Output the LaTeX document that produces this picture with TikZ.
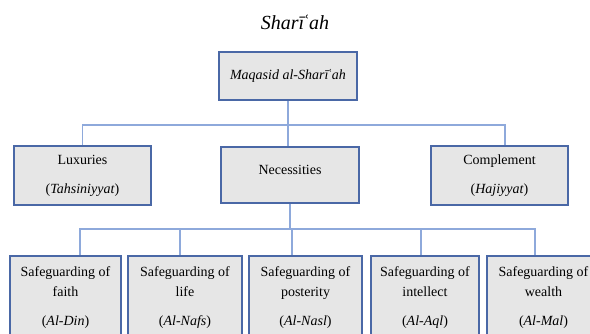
\documentclass[tikz,border=0pt]{standalone}
\usepackage{fontspec}
\setmainfont{Liberation Serif}
\definecolor{boxblue}{HTML}{4A68A6}
\definecolor{linkblue}{HTML}{8EA9DB}
\definecolor{boxgrey}{HTML}{E6E6E6}
\def\u{0.75pt}
\begin{document}
\begin{tikzpicture}[x=0.75pt,y=-0.75pt,
	every node/.style={font=\fontsize{10.5}{12.6}\selectfont},
	box/.style={rectangle,draw=boxblue,line width=1.3pt,fill=boxgrey,align=center,inner sep=0pt},
	link/.style={draw=linkblue,line width=0.8pt}]
\useasboundingbox (0,0) rectangle (590,334);
\clip (0,0) rectangle (590,334);
\node[font=\fontsize{15}{18}\selectfont\itshape] (title) at (295,22) {Sharī\kern-1.2ptʿah};
\node[box,minimum width=138*\u,minimum height=48*\u] (maq) at (288,76) {\textit{Maqasid al-Sharī\kern-0.8ptʿah}};
% second level
\node[box,minimum width=137*\u,minimum height=59*\u] (lux) at (82.5,175.5) {Luxuries\\[9pt](\textit{Tahsiniyyat})};
\node[box,minimum width=138*\u,minimum height=56*\u] (nec) at (290,175) {\raisebox{4pt}[\height][\depth]{Necessities}};
\node[box,minimum width=137*\u,minimum height=59*\u] (comp) at (499.5,175.5) {Complement\\[9pt](\textit{Hajiyyat})};
% third level
\tikzset{safe/.style={box,anchor=north,minimum height=84*\u}}
\node[safe,minimum width=111*\u] (faith) at (65.5,255) {Safeguarding of\\[2.4pt]faith\\[9pt](\textit{Al-Din})};
\node[safe,minimum width=114*\u] (life) at (185,255) {Safeguarding of\\[2.4pt]life\\[9pt](\textit{Al-Nafs})};
\node[safe,minimum width=113*\u] (post) at (305.5,255) {Safeguarding of\\[2.4pt]posterity\\[9pt](\textit{Al-Nasl})};
\node[safe,minimum width=108*\u] (intel) at (425,255) {Safeguarding of\\[2.4pt]intellect\\[9pt](\textit{Al-Aql})};
\node[safe,minimum width=113*\u] (wealth) at (543.5,255) {Safeguarding of\\[2.4pt]wealth\\[9pt](\textit{Al-Mal})};
% connectors
\coordinate (bar1) at (288,125);
\coordinate (bar2) at (292,229);
\draw[link] (maq.south) -- (maq.south |- nec.north);
\draw[link] (lux.north) |- (bar1) -| ([xshift=5.5*\u]comp.north);
\draw[link] (nec.south) -- (nec.south |- bar2);
\draw[link] ([xshift=14.5*\u]faith.north) |- (bar2) -| ([xshift=-8.5*\u]wealth.north);
\draw[link] ([xshift=-5*\u]life.north) -- ([xshift=-5*\u]life.north |- bar2);
\draw[link] ([xshift=-13.5*\u]post.north) -- ([xshift=-13.5*\u]post.north |- bar2);
\draw[link] ([xshift=-4*\u]intel.north) -- ([xshift=-4*\u]intel.north |- bar2);
\end{tikzpicture}
\end{document}
